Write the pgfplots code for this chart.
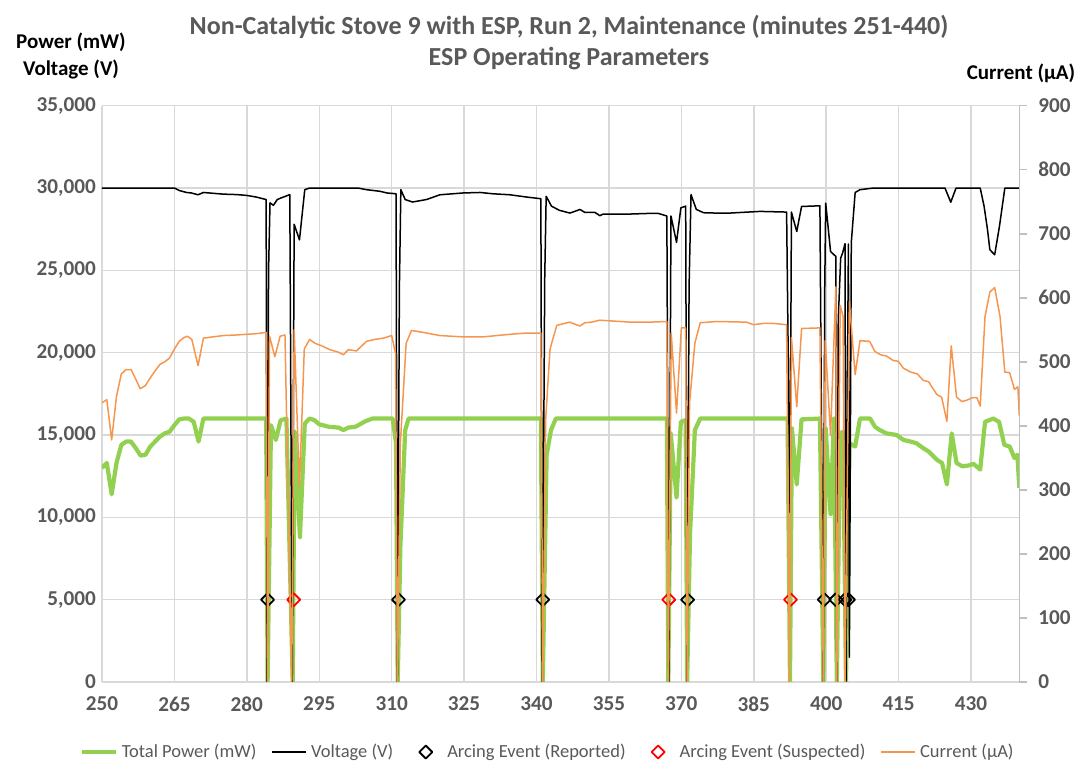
\documentclass[border=0pt]{standalone}
\usepackage{fontspec}
\setmainfont{Carlito}
\usepackage{pgfplots}
\pgfplotsset{compat=1.18}
\definecolor{pgreen}{RGB}{146,208,80}
\definecolor{porange}{RGB}{246,150,78}
\definecolor{tgray}{RGB}{89,89,89}
\definecolor{ggray}{RGB}{217,217,217}
\definecolor{agray}{RGB}{191,191,191}
\begin{document}
\begin{tikzpicture}
\pgfplotsset{
  base/.style={
    at={(0,0)}, anchor=south west,
    scale only axis, width=458.65pt, height=288.15pt,
    xmin=250, xmax=440,
    /pgf/number format/assume math mode=true,
    /pgf/number format/1000 sep={,},
    scaled y ticks=false,
    tick label style={font=\bfseries\fontsize{10.6}{12}\selectfont, text=tgray},
    every axis plot/.append style={line join=round},
  }
}
\begin{axis}[base,
  ymin=0, ymax=35000,
  xtick={250,265,...,430}, ytick={0,5000,...,35000},
  grid=major, grid style={ggray, line width=0.75pt},
  axis line style={draw=none},
  major tick length=0pt,
  xticklabel style={yshift=-4pt},
  yticklabel style={xshift=0.5pt},
]
% Total Power (mW)
\addplot[pgreen, line width=2.1pt] table {
250 13000
251 13300
252 11400
253 13300
254 14400
255 14600
256 14600
257 14200
258 13750
259 13800
260 14300
261 14600
262 14900
263 15100
264 15200
265 15600
266 15950
267 16000
268 16000
269 15800
270 14600
271 16000
275 16000
280 16000
284 16000
284.3 0
284.7 8800
285.0 15600
286.0 14700
287.0 15900
288.2 16000
289.5 0
289.9 15200
291.0 8800
292.0 15700
293.0 16000
294.0 15900
295.0 15650
297.0 15500
299.0 15450
300.0 15300
301.0 15450
302.5 15500
304.5 15830
306.0 16000
310.2 16000
310.9 14500
311.25 0
311.8 8200
312.8 15300
313.5 16000
320 16000
330 16000
340.9 16000
341.3 0
342.1 13800
343.0 15300
344.0 16000
350 16000
360 16000
367.0 16000
367.3 0
367.8 15100
369.0 11200
369.9 15800
370.9 15900
371.2 0
371.8 9000
372.8 15300
373.9 16000
380 16000
392.0 16000
392.5 0
392.9 15400
393.9 12000
394.9 15950
398.7 16000
399.4 0
399.9 15400
400.9 10200
401.6 16000
402.2 0
402.9 15100
403.5 15200
404.1 0
404.8 14500
406.0 14300
407.0 16000
409.1 16000
410.1 15500
411.1 15300
412.5 15100
414.6 15000
416.0 14700
417.5 14600
418.7 14500
420.1 14200
421.2 14000
422.9 13500
424.0 13300
425.0 12000
426.0 15100
427.0 13300
428.2 13100
429.5 13150
430.5 13250
431.9 12900
432.9 15800
434.6 16000
435.8 15800
436.9 14400
438.0 14300
439.0 13600
439.6 13800
440.0 11800
};
% Voltage (V)
\addplot[black, line width=0.75pt] table {
250 30000
255 30000
260 30000
265 30000
266 29850
267.5 29730
268.5 29700
269.9 29590
271.0 29730
273 29680
275.1 29630
278 29600
280.0 29550
282 29450
284.0 29300
284.2 0
284.5 25000
284.8 29100
285.5 28950
286.3 29300
287.1 29400
288.3 29530
288.9 29600
289.4 0
289.8 27800
290.9 26850
292.0 29900
293.0 30000
303.0 30000
304.8 29900
307.6 29800
309.0 29700
310.9 29650
311.2 0
311.6 24000
311.9 29900
312.8 29300
314.3 29150
317.2 29300
320.0 29590
324.8 29700
328.3 29730
331.0 29650
334.5 29590
338.0 29450
340.9 29350
341.2 0
341.7 24500
342.0 29500
343.1 28900
344.7 28650
346.9 28480
348.3 28620
349.0 28700
350.0 28520
352.1 28520
353.1 28320
353.8 28420
359.4 28420
363.5 28460
365.2 28460
367.0 28300
367.4 0
367.85 28300
369.0 26700
369.9 28800
370.9 28900
371.2 0
371.6 24000
372.0 29600
373.1 28700
374.6 28500
377.0 28480
380.1 28480
386.3 28580
391.8 28540
392.5 10300
392.8 28540
393.9 27360
394.9 28880
398.7 28920
399.4 0
399.7 24000
399.9 29080
400.9 26150
401.6 25950
402.0 25850
402.2 0
402.5 22000
403.0 25750
403.4 26050
403.9 26620
404.1 0
404.4 18400
404.6 26600
404.8 1500
405.2 26700
406.0 29730
407 29900
409.8 30000
424.6 30000
425.8 29140
426.9 30000
431.9 30000
432.7 28900
433.4 27500
433.9 26250
434.9 25950
435.9 27700
437.0 30000
440.0 30000
};
% Arcing Event (Reported)
\addplot[only marks, mark=square, mark size=2.3pt, mark options={rotate=45, black, line width=0.9pt, fill=white}] table {
284.3 5000
311.4 5000
341.3 5000
371.3 5000
399.6 5000
402.0 5000
403.9 5000
404.6 5000
};
% Arcing Event (Suspected)
\addplot[only marks, mark=square, mark size=2.3pt, mark options={rotate=45, red, line width=0.9pt, fill=white}] table {
289.7 5000
367.4 5000
392.6 5000
};
\end{axis}
\begin{axis}[base,
  ymin=0, ymax=900, ytick={0,100,...,900},
  axis x line=none, axis y line*=right,
  y axis line style={agray, line width=0.75pt},
  ytick style={agray, line width=0.75pt},
  tick align=outside, major tick length=4pt,
  yticklabel style={xshift=2pt},
  legend columns=5,
  legend style={draw=none, fill=none, at={(axis description cs:0.4868,-0.1215)}, anchor=center,
    font=\fontsize{9.25}{11}\selectfont, text=tgray,
    /tikz/every even column/.append style={column sep=5.5pt},
    legend cell align=left},
]
\addlegendimage{pgreen, line width=2.1pt}
\addlegendentry{Total Power (mW)}
\addlegendimage{black, line width=0.75pt}
\addlegendentry{Voltage (V)}
\addlegendimage{draw opacity=0, mark=square, mark size=2.3pt, mark options={draw opacity=1, rotate=45, black, line width=0.9pt}}
\addlegendentry{Arcing Event (Reported)}
\addlegendimage{draw opacity=0, mark=square, mark size=2.3pt, mark options={draw opacity=1, rotate=45, red, line width=0.9pt}}
\addlegendentry{Arcing Event (Suspected)}
% Current (uA)
\addplot[porange, line width=0.75pt] table {
250 436
251 441
252 378
253 446
254 481
255 488
256 488
257 473
257.9 458
259 463
260 475
261 486
262 496
263 500
264 506
265 520
266 532
267 538
267.7 540
268.6 535
269.9 494
271.0 537
273 539
275.1 541
278 542
280 543
282 544
284.0 546
284.3 0
284.7 540
285.8 508
286.9 540
287.9 542
289.3 0
289.8 550
290.9 305
291.9 520
293.0 535
294.1 529
295.5 525
297.2 519
299.0 515
300.0 511
301.0 519
302.7 517
304.8 532
306.5 535
308.3 537
310.0 541
310.8 513
311.2 0
311.8 373
313.0 529
314.1 549
316.5 546
320.0 541
324.8 539
329.0 539
334.5 543
338.0 545
340.9 545
341.3 0
341.9 410
342.8 520
344.2 557
346.9 562
348.2 558
349.0 556
350.0 561
351.4 562
353.1 565
359.4 562
363.5 562
367.0 563
367.3 0
367.9 545
369.0 420
370.0 553
370.9 553
371.2 0
371.7 436
372.8 529
373.9 561
377.3 563
383.5 562
384.9 558
387.0 560
389.1 560
391.8 558
392.4 0
392.8 538
393.9 430
394.9 552
398.7 553
399.4 0
399.8 533
400.9 386
402.0 617
402.2 0
402.9 588
403.5 571
403.9 0
404.8 594
406.0 480
407.0 533
409.0 532
410.1 516
411.3 511
412.5 509
413.9 502
414.9 501
416.0 490
417.5 484
418.9 481
420.1 471
421.2 469
422.9 449
423.9 445
425.0 407
425.9 525
427.0 445
428.1 438
429.1 440
430.3 444
431.2 444
431.9 431
432.9 571
433.9 609
434.9 616
436.0 571
437.0 484
438.0 483
439.0 457
439.7 461
440.0 415
};
\addlegendentry{Current (µA)}
\end{axis}
\node[font=\bfseries\fontsize{13}{15}\selectfont, text=tgray] at (233.5pt,327.5pt) {Non-Catalytic Stove 9 with ESP, Run 2, Maintenance (minutes 251-440)};
\node[font=\bfseries\fontsize{13}{15}\selectfont, text=tgray] at (233.5pt,311.5pt) {ESP Operating Parameters};
\node[font=\bfseries\fontsize{10.5}{12}\selectfont, text=black] at (-15.5pt,320pt) {Power (mW)};
\node[font=\bfseries\fontsize{10.5}{12}\selectfont, text=black] at (-15.5pt,306.5pt) {Voltage (V)};
\node[font=\bfseries\fontsize{10.5}{12}\selectfont, text=black] at (459.5pt,304.5pt) {Current (µA)};
\pgfresetboundingbox
\useasboundingbox (-51pt,-49pt) rectangle (488.5pt,341pt);
\end{tikzpicture}
\end{document}
